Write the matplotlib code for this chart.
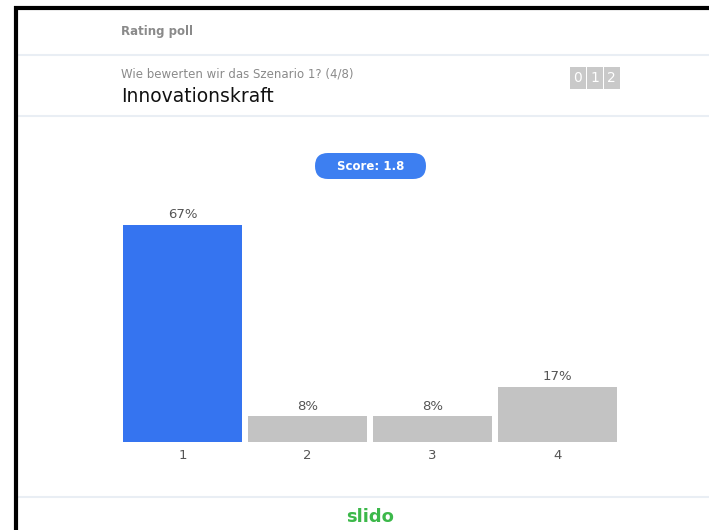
import matplotlib
matplotlib.use("Agg")
import matplotlib.pyplot as plt
from matplotlib.patches import FancyBboxPatch, Rectangle

# Data
categories = ["1", "2", "3", "4"]
percentages = [67, 8, 8, 17]
score_text = "Score: 1.8"
header_label = "Rating poll"
question_text = "Wie bewerten wir das Szenario 1? (4/8)"
title_text = "Innovationskraft"
counter_digits = ["0", "1", "2"]

W, H = 709, 530
fig = plt.figure(figsize=(W / 100, H / 100), dpi=100)
fig.patch.set_facecolor("white")

# Overlay axes in pixel coordinates (origin top-left)
ov = fig.add_axes([0, 0, 1, 1])
ov.set_xlim(0, W)
ov.set_ylim(H, 0)
ov.axis("off")
ov.set_zorder(0)

# Separator lines
for yy in [55, 116, 497]:
    ov.plot([17, W], [yy, yy], color="#e9eef4", lw=1.5, solid_capstyle="butt")

# Black border (left and top)
ov.plot([15.5, 15.5], [6, H + 2], color="black", lw=3.0, solid_capstyle="butt")
ov.plot([14, W + 2], [7.5, 7.5], color="black", lw=3.0, solid_capstyle="butt")

# Header texts
ov.text(121, 31, header_label, fontsize=8.5, color="#8a8a8a",
        fontweight="bold", va="center", ha="left")
ov.text(121, 74, question_text, fontsize=8.5, color="#8a8a8a",
        va="center", ha="left")
ov.text(121, 96, title_text, fontsize=13.5, color="#111111",
        va="center", ha="left")

# Counter boxes
bx0 = 569.5
for i, d in enumerate(counter_digits):
    x0 = bx0 + i * 17
    ov.add_patch(Rectangle((x0, 67), 16, 22, facecolor="#c9c9c9", edgecolor="none"))
    ov.text(x0 + 8, 78.5, d, fontsize=10, color="white", ha="center", va="center")

# Score pill
ov.add_patch(FancyBboxPatch((315, 153), 111, 26,
                            boxstyle="round,pad=0,rounding_size=13",
                            facecolor="#3d7ff1", edgecolor="none"))
ov.text(370.5, 166.5, score_text, fontsize=8.5, color="white",
        fontweight="bold", ha="center", va="center")

# slido logo text
ov.text(370, 517, "slido", fontsize=13, color="#3cb84a",
        fontweight="bold", ha="center", va="center")

# Bar chart axes
ax_left, ax_right = 120, 620
base = 442
px_per = 217 / 67
ymax = 70
top = base - ymax * px_per
ax = fig.add_axes([ax_left / W, 1 - base / H, (ax_right - ax_left) / W, (base - top) / H])
ax.set_facecolor("none")
ax.set_zorder(1)
xs = list(range(1, len(categories) + 1))
colors = ["#3574f0"] + ["#c3c3c3"] * (len(categories) - 1)
ax.bar(xs, percentages, width=119 / 125, color=colors, edgecolor="none")
for x, p in zip(xs, percentages):
    ax.text(x, p + 1.1, f"{p}%", ha="center", va="bottom", fontsize=9.5,
            color="#555555")
ax.set_xlim(0.5, 4.5)
ax.set_ylim(0, ymax)
ax.set_xticks(xs)
ax.set_xticklabels(categories, fontsize=9.5, color="#555555")
ax.tick_params(axis="x", length=0, pad=5)
ax.set_yticks([])
for s in ax.spines.values():
    s.set_visible(False)

fig.savefig("out.png", dpi=100, facecolor="white")
